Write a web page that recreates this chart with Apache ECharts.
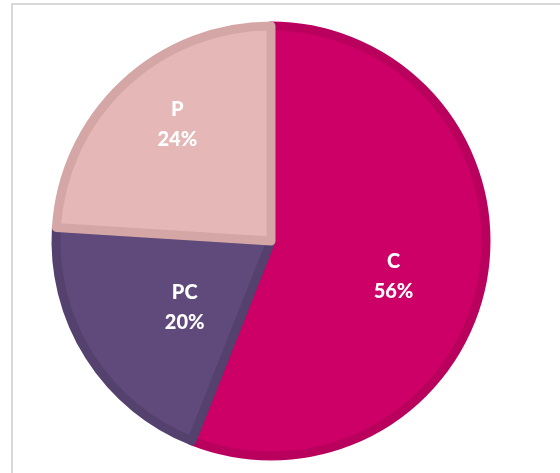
<!DOCTYPE html>
<html><head><meta charset="utf-8">
<script src="https://cdn.jsdelivr.net/npm/echarts@6/dist/echarts.min.js"></script>
<style>html,body{margin:0;padding:0;background:#fff}#c{width:560px;height:473px}</style>
</head><body><div id="c"></div>
<script>
const categories = ['C', 'PC', 'P'];
const values = [56, 20, 24];
const fills = ['#CC0066', '#604A7B', '#E5B8B7'];
const borders = ['#B8005C', '#54416D', '#D5A6A6'];
const labelShift = [[14, 15], [7, 7], [-18, -36]];

const chart = echarts.init(document.getElementById('c'), null, {renderer: 'canvas'});
chart.setOption({
  animation: false,
  graphic: [{
    type: 'polyline', silent: true,
    shape: {points: [[12, 480], [12, 4], [570, 4]]},
    style: {stroke: '#D9D9D9', lineWidth: 2, fill: null}
  }],
  series: [{
    type: 'pie',
    center: [271, 241],
    radius: [0, 215],
    startAngle: 90,
    clockwise: true,
    data: categories.map((n, i) => ({
      name: n, value: values[i],
      itemStyle: {color: fills[i], borderColor: borders[i], borderWidth: 9}
    })),
    label: {
      show: true, position: 'inside',
      formatter: p => p.name + '\n' + p.value + '%',
      color: '#fff', fontFamily: 'Lato', fontWeight: 900, fontSize: 20, lineHeight: 30
    },
    labelLine: {show: false},
    labelLayout: p => ({dx: labelShift[p.dataIndex][0], dy: labelShift[p.dataIndex][1]}),
    emphasis: {disabled: true}
  }]
});
</script></body></html>
